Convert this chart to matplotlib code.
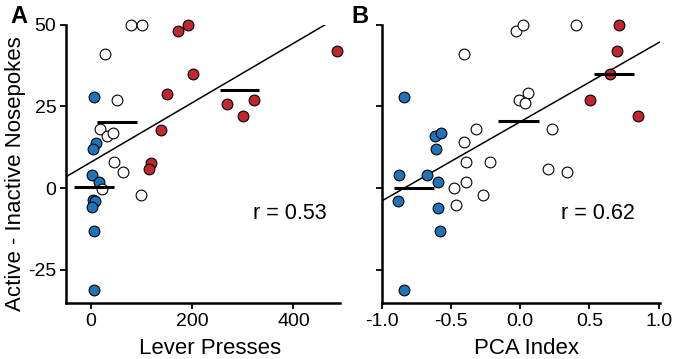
import matplotlib
matplotlib.use("Agg")
import matplotlib.pyplot as plt
import numpy as np

plt.rcParams['font.family'] = ['Liberation Sans', 'DejaVu Sans']

BLUE = '#1f73b8'
RED = '#c0272e'
WHITE = '#ffffff'

# ---- Panel A data (Lever Presses vs Active - Inactive Nosepokes)
a_blue_x = [6.6, 9.9, 4.6, 2.0, 16.4, 5.2, 8.5, 3.2, 5.9, 6.6]
a_blue_y = [28.0, 13.9, 11.9, 4.1, 1.9, -3.5, -3.9, -5.7, -13.0, -31.0]
a_white_x = [80, 100.7, 28.3, 52.6, 19, 32, 44.7, 45.4, 63.8, 21.7, 99.4]
a_white_y = [50, 50, 41, 26.9, 18, 16, 16.8, 7.9, 5.1, -0.3, -2.0]
a_red_x = [173, 192, 202.7, 150, 138, 119, 114.5, 269, 321.8, 300.7, 485.6]
a_red_y = [48, 50, 34.9, 28.9, 17.9, 7.8, 5.9, 25.9, 26.9, 22.1, 41.9]
a_mean_x0 = [-32.9, 13.2, 254.6]
a_mean_x1 = [46.7, 92.0, 333.0]
a_mean_y = [0.3, 20.3, 30.1]
a_fit = (0.0909, 7.93)   # slope, intercept
a_fit_range = (-48.7, 463)
a_r = "r = 0.53"

# ---- Panel B data (PCA Index)
b_blue_x = [-0.837, -0.878, -0.883, -0.675, -0.612, -0.574, -0.608, -0.596, -0.591, -0.579, -0.837]
b_blue_y = [28, 4, -3.9, 4, 15.9, 16.9, 12, 1.9, -6, -13, -31]
b_white_x = [-0.031, 0.017, 0.402, -0.404, -0.005, 0.06, 0.038, -0.321, 0.23, -0.407,
             -0.39, -0.218, 0.203, 0.34, -0.39, -0.476, -0.268, -0.464]
b_white_y = [48, 50, 50, 41, 27.1, 29, 26.1, 18, 18, 14,
             8, 8, 5.9, 5, 1.9, 0, -2, -5]
b_red_x = [0.713, 0.703, 0.651, 0.507, 0.854]
b_red_y = [50, 42.1, 34.9, 27.1, 22.1]
b_mean_x0 = [-0.909, -0.158, 0.533]
b_mean_x1 = [-0.620, 0.134, 0.825]
b_mean_y = [0.0, 20.4, 34.9]
b_fit = (24.2, 20.3)
b_fit_range = (-0.993, 1.005)
b_r = "r = 0.62"

W, H = 675, 359
fig = plt.figure(figsize=(W/100, H/100), dpi=100)

def px_axes(l, r, t, b):
    return fig.add_axes([l/W, 1-b/H, (r-l)/W, (b-t)/H])

axA = px_axes(66, 340, 24.7, 303)
axB = px_axes(381.7, 660, 24.7, 303)

def style(ax):
    for s in ['top', 'right']:
        ax.spines[s].set_visible(False)
    for s in ['left', 'bottom']:
        ax.spines[s].set_linewidth(1.8)
    ax.tick_params(direction='out', length=4, width=1.3, labelsize=14, pad=3)
    ax.set_ylim(-35.1, 50)
    ax.set_yticks([-25, 0, 25, 50])

def draw(ax, bx, by, wx, wy, rx, ry, mx0, mx1, my, fit, fr):
    xs = np.array(fr)
    ax.plot(xs, fit[0]*xs + fit[1], color='black', lw=1.1, zorder=2)
    for x, y, c in [(bx, by, BLUE), (wx, wy, WHITE), (rx, ry, RED)]:
        ax.scatter(x, y, s=60, facecolor=c, edgecolor='black', linewidth=0.8,
                   zorder=3, clip_on=False)
    ax.hlines(my, mx0, mx1, color='black', lw=2.2, zorder=4)

style(axA)
draw(axA, a_blue_x, a_blue_y, a_white_x, a_white_y, a_red_x, a_red_y,
     a_mean_x0, a_mean_x1, a_mean_y, a_fit, a_fit_range)
axA.set_xlim(-48.8, 492)
axA.set_xticks([0, 200, 400])
axA.set_yticklabels(['-25', '0', '25', '50'])
axA.text(466, -7.6, a_r, fontsize=15.5, ha='right', va='center')

style(axB)
draw(axB, b_blue_x, b_blue_y, b_white_x, b_white_y, b_red_x, b_red_y,
     b_mean_x0, b_mean_x1, b_mean_y, b_fit, b_fit_range)
axB.set_xlim(-1.0, 1.01)
axB.set_xticks([-1.0, -0.5, 0.0, 0.5, 1.0])
axB.set_xticklabels(['-1.0', '-0.5', '0.0', '0.5', '1.0'])
axB.set_yticklabels([])
axB.text(0.826, -7.6, b_r, fontsize=15.5, ha='right', va='center')

fig.text(210/W, 1-353.5/H, 'Lever Presses', fontsize=16, ha='center', va='baseline')
fig.text(526/W, 1-353.5/H, 'PCA Index', fontsize=16, ha='center', va='baseline')
fig.text(15.5/W, 1-173.5/H, 'Active - Inactive Nosepokes', fontsize=16,
         rotation=90, ha='center', va='center')

fig.text(10/W, 1-22.7/H, 'A', fontsize=17, fontweight='bold', ha='left', va='baseline')
fig.text(351/W, 1-22.7/H, 'B', fontsize=17, fontweight='bold', ha='left', va='baseline')

fig.savefig('out.png', dpi=100)
